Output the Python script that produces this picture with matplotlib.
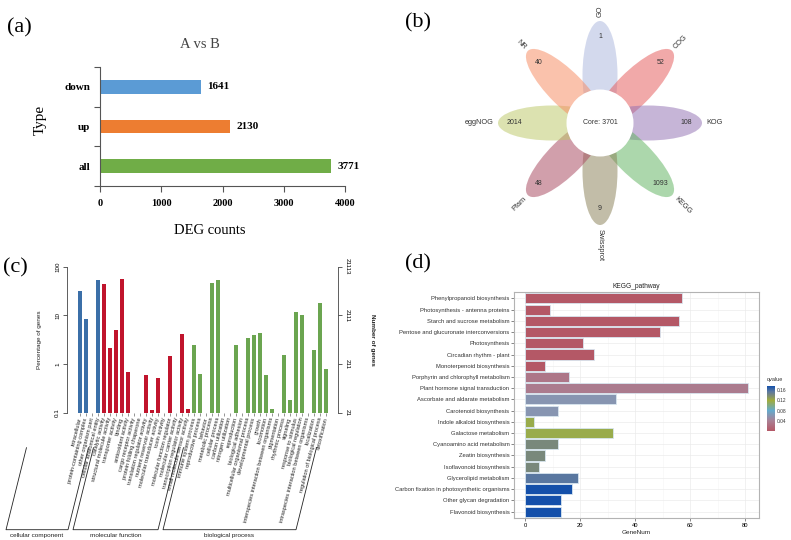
import numpy as np
import matplotlib
matplotlib.use('Agg')
import matplotlib.pyplot as plt
from matplotlib.patches import Ellipse, Circle
from matplotlib.colors import LinearSegmentedColormap, Normalize
from matplotlib.cm import ScalarMappable
from matplotlib.ticker import NullLocator
import matplotlib.transforms as mtransforms

plt.rcParams['font.family'] = ['Liberation Sans', 'DejaVu Sans']
SERIF = ['Liberation Serif', 'DejaVu Serif']

# ---------------- data ----------------
# (a)
deg_types = ['all', 'up', 'down']
deg_counts = [3771, 2130, 1641]
deg_colors = ['#70AD47', '#ED7D31', '#5B9BD5']

# (b)
flower_sets = ['GO', 'COG', 'KOG', 'KEGG', 'Swissprot', 'Pfam', 'eggNOG', 'NR']
flower_counts = [1, 52, 108, 1093, 9, 48, 2014, 40]
flower_core = 3701
flower_colors = ['#ACB7DE', '#E65A5A', '#9371B4', '#61B461',
                 '#8A8258', '#A8485F', '#BCC869', '#F78A61']

# (c)
go_terms = [
    'intracellular', 'protein-containing complex', 'other organism part',
    'cellular anatomical entity',
    'catalytic activity', 'structural molecule activity', 'transporter activity',
    'binding', 'antioxidant activity', 'cargo receptor activity',
    'protein folding chaperone', 'translation regulator activity',
    'nutrient reservoir activity', 'molecular transducer activity', 'toxin activity',
    'molecular function regulator', 'molecular carrier activity',
    'transcription regulator activity', 'small molecule sensor activity',
    'immune system process', 'reproductive process', 'behavior',
    'metabolic process', 'cellular process', 'carbon utilization',
    'nitrogen utilization', 'reproduction', 'biological adhesion',
    'multicellular organismal process', 'developmental process', 'growth',
    'locomotion', 'interspecies interaction between organisms', 'pigmentation',
    'rhythmic process', 'signaling', 'response to stimulus',
    'biological regulation', 'intraspecies interaction between organisms',
    'localization', 'regulation of biological process', 'detoxification']
go_groups = ['cellular component'] * 4 + ['molecular function'] * 15 + ['biological process'] * 23
go_percent = [31.6, 8.5, 0, 54,
              45, 2.17, 5.0, 55, 0.67, 0, 0, 0.585, 0.114, 0.52, 0, 1.46, 0, 4.13, 0.117,
              2.45, 0.62, 0, 47, 53, 0, 0, 2.45, 0, 3.5, 3.9, 4.4, 0.585, 0.117, 0,
              1.5, 0.18, 11.7, 10.0, 0, 1.97, 17.7, 0.78]
go_total = 21113
go_group_names = ['cellular component', 'molecular function', 'biological process']
go_group_colors = ['#3B6FA8', '#C0142C', '#6BA550']

# (d)
kegg_pathways = ['Phenylpropanoid biosynthesis', 'Photosynthesis - antenna proteins',
                 'Starch and sucrose metabolism', 'Pentose and glucuronate interconversions',
                 'Photosynthesis', 'Circadian rhythm - plant', 'Monoterpenoid biosynthesis',
                 'Porphyrin and chlorophyll metabolism', 'Plant hormone signal transduction',
                 'Ascorbate and aldarate metabolism', 'Carotenoid biosynthesis',
                 'Indole alkaloid biosynthesis', 'Galactose metabolism',
                 'Cyanoamino acid metabolism', 'Zeatin biosynthesis',
                 'Isoflavonoid biosynthesis', 'Glycerolipid metabolism',
                 'Carbon fixation in photosynthetic organisms', 'Other glycan degradation',
                 'Flavonoid biosynthesis']
kegg_genenum = [57, 9, 56, 49, 21, 25, 7, 16, 81, 33, 12, 3, 32, 12, 7, 5, 19, 17, 13, 13]
kegg_qvalue = [0.0, 0.0, 0.0, 0.0, 0.0, 0.0, 0.0, 0.03, 0.035, 0.06, 0.06, 0.115, 0.115,
               0.14, 0.14, 0.14, 0.155, 0.176, 0.176, 0.176]

# ---------------- figure ----------------
W, H = 791, 540
fig = plt.figure(figsize=(W / 100, H / 100), dpi=100)
fig.patch.set_facecolor('white')


def box(l, t, r, b):
    return [l / W, 1 - b / H, (r - l) / W, (b - t) / H]


# ======== (a) ========
axA = fig.add_axes(box(100, 67, 345, 186))
ya = np.arange(len(deg_types))
axA.barh(ya, deg_counts, height=0.35, color=deg_colors)
axA.set_xlim(0, 4000)
axA.set_ylim(-0.5, len(deg_types) - 0.5)
axA.set_xticks([0, 1000, 2000, 3000, 4000])
axA.set_xticklabels(['0', '1000', '2000', '3000', '4000'], fontfamily=SERIF,
                    fontweight='bold', fontsize=7.5)
axA.set_yticks(ya)
axA.set_yticklabels(deg_types, fontfamily=SERIF, fontweight='bold', fontsize=8)
axA.set_yticks(np.arange(len(deg_types) + 1) - 0.5, minor=True)
axA.tick_params(axis='y', which='major', length=0, pad=7)
axA.tick_params(axis='y', which='minor', length=4, width=0.8, color='#555555')
axA.tick_params(axis='x', length=4, width=0.8, color='#555555', pad=5)
for s in ['top', 'right']:
    axA.spines[s].set_visible(False)
for s in ['left', 'bottom']:
    axA.spines[s].set_color('#555555')
    axA.spines[s].set_linewidth(0.8)
for v, yy in zip(deg_counts, ya):
    axA.annotate(str(v), (v, yy), xytext=(4.5, 0), textcoords='offset points',
                 va='center', ha='left', fontfamily=SERIF, fontweight='bold', fontsize=8)
fig.text(200 / W, 1 - 45 / H, 'A vs B', ha='center', va='center', fontfamily=SERIF,
         fontsize=10.5, color='#444444')
fig.text(40 / W, 1 - 120 / H, 'Type', ha='center', va='center', rotation=90,
         fontfamily=SERIF, fontsize=11)
fig.text(210 / W, 1 - 230 / H, 'DEG counts', ha='center', va='center',
         fontfamily=SERIF, fontsize=10.5)
fig.text(19 / W, 1 - 28 / H, '(a)', ha='center', va='center', fontfamily=SERIF, fontsize=16)

# ======== (b) ========
axB = fig.add_axes(box(470, 0, 730, 250))
axB.set_xlim(-130, 130)
axB.set_ylim(-127, 123)
axB.axis('off')
n_sets = len(flower_sets)
for i, (name, cnt, col) in enumerate(zip(flower_sets, flower_counts, flower_colors)):
    ang = 90 - 360 / n_sets * i
    a = np.deg2rad(ang)
    axB.add_patch(Ellipse((48 * np.cos(a), 48 * np.sin(a)), width=108, height=35,
                          angle=ang, facecolor=col, alpha=0.52, edgecolor='none', zorder=1))
    axB.text(86 * np.cos(a), 86 * np.sin(a), str(cnt), ha='center', va='center',
             fontsize=5, color='#333333', zorder=4)
    angn = ((ang + 180) % 360) - 180
    if -90 <= angn <= 90:
        rot, ha = angn, 'left'
    else:
        rot, ha = angn - 180 if angn > 0 else angn + 180, 'right'
    axB.text(106 * np.cos(a), 106 * np.sin(a), name, rotation=rot, ha=ha, va='center',
             rotation_mode='anchor', fontsize=5.3, color='#333333', clip_on=False)
axB.add_patch(Circle((0, 0), 33.5, facecolor='white', edgecolor='none', zorder=3))
axB.text(0, 0, f'Core: {flower_core}', ha='center', va='center', fontsize=5,
         color='#333333', zorder=4)
fig.text(418 / W, 1 - 23 / H, '(b)', ha='center', va='center', fontfamily=SERIF, fontsize=16)

# ======== (c) ========
axC = fig.add_axes(box(67, 266.7, 338, 412.7))
xc = np.arange(len(go_terms))
pct = np.array(go_percent, dtype=float)
cols = [go_group_colors[go_group_names.index(g)] for g in go_groups]
axC.set_yscale('log')
m = pct > 0
axC.bar(xc[m], pct[m] - 0.1, bottom=0.1, width=0.82,
        color=[c for c, k in zip(cols, m) if k])
axC.set_ylim(0.1, 100)
axC.set_xlim(-2.17, 43)
axC.yaxis.set_minor_locator(NullLocator())
axC.set_yticks([0.1, 1, 10, 100])
axC.set_yticklabels(['0.1', '1', '10', '100'], rotation=90, va='center', fontsize=4.5)
axC.tick_params(axis='y', length=3, width=0.6, pad=2, color='#444444')
axC.set_xticks(xc)
axC.set_xticklabels(go_terms, rotation=76, ha='right', va='center',
                    rotation_mode='anchor', fontsize=4.1, color='#222222')
axC.tick_params(axis='x', length=2, width=0.4, pad=1.5, color='#444444')
for s in ['top', 'bottom', 'right']:
    axC.spines[s].set_visible(False)
axC.spines['left'].set_linewidth(0.6)
axC.spines['left'].set_color('#444444')

axR = axC.twinx()
axR.set_yscale('log')
axR.set_ylim(go_total * 0.1 / 100, go_total)
axR.yaxis.set_minor_locator(NullLocator())
rt = [go_total * p / 100 for p in [0.1, 1, 10, 100]]
axR.set_yticks(rt)
axR.set_yticklabels([str(int(t)) for t in rt], rotation=270, va='center', fontsize=4.5)
axR.tick_params(axis='y', length=3, width=0.6, pad=2, color='#444444')
for s in ['top', 'bottom', 'left']:
    axR.spines[s].set_visible(False)
axR.spines['right'].set_linewidth(0.6)
axR.spines['right'].set_color('#444444')

fig.text(40 / W, 1 - 340 / H, 'Percentage of genes', rotation=90, ha='center',
         va='center', fontsize=4.6, color='#222222')
fig.text(372 / W, 1 - 340 / H, 'Number of genes', rotation=270, ha='center',
         va='center', fontsize=4.6, fontweight='bold', color='#222222')

# group brackets
btrans = mtransforms.blended_transform_factory(axC.transData, axC.transAxes)
px_per_idx = 271 / (43 + 2.17)
y_bot = -117 / 146
y_top = -35 / 146
dx_top = (82 / np.tan(np.deg2rad(76))) / px_per_idx
left_pad = {'cellular component': 74, 'molecular function': 31, 'biological process': 31}
for g in go_group_names:
    idx = [i for i, gg in enumerate(go_groups) if gg == g]
    xl = idx[0] - left_pad[g] / px_per_idx
    xr = idx[-1] - 30 / px_per_idx
    axC.plot([xl + dx_top, xl, xr, xr + dx_top], [y_top, y_bot, y_bot, y_top],
             transform=btrans, color='#222222', lw=0.6, clip_on=False)
    axC.text((xl + xr) / 2, y_bot - 3 / 146, g, transform=btrans, ha='center', va='top',
             fontsize=4.6, color='#222222', clip_on=False)
fig.text(15 / W, 1 - 268 / H, '(c)', ha='center', va='center', fontfamily=SERIF, fontsize=16)

# ======== (d) ========
cmap = LinearSegmentedColormap.from_list('q', [
    (0.0, (180 / 255, 88 / 255, 102 / 255)),
    (0.227, (170 / 255, 128 / 255, 148 / 255)),
    (0.455, (100 / 255, 170 / 255, 205 / 255)),
    (0.68, (160 / 255, 172 / 255, 60 / 255)),
    (0.80, (120 / 255, 135 / 255, 125 / 255)),
    (0.88, (90 / 255, 120 / 255, 160 / 255)),
    (1.0, (20 / 255, 80 / 255, 170 / 255))])
norm = Normalize(vmin=min(kegg_qvalue), vmax=max(kegg_qvalue))

axD = fig.add_axes(box(514.3, 291.7, 759, 518.3))
nk = len(kegg_pathways)
yd = np.arange(nk)[::-1] + 1
axD.barh(yd, kegg_genenum, height=0.9, color=cmap(norm(np.array(kegg_qvalue))),
         edgecolor='#D8E6F0', linewidth=0.6, zorder=3)
axD.set_ylim(0.4, nk + 0.6)
axD.set_xlim(-4.05, 85.05)
axD.set_xticks([0, 20, 40, 60, 80])
axD.set_xticks([10, 30, 50, 70], minor=True)
axD.set_yticks(yd)
axD.set_yticklabels(kegg_pathways, fontsize=4.2, color='#333333')
axD.tick_params(axis='both', which='major', length=2, width=0.5, color='#555555',
                labelsize=4.2, pad=1.5)
axD.tick_params(axis='x', which='minor', length=0)
axD.grid(True, which='major', color='#EBEBEB', lw=0.5, zorder=0)
axD.grid(True, which='minor', axis='x', color='#F5F5F5', lw=0.4, zorder=0)
axD.set_axisbelow(True)
for s in axD.spines.values():
    s.set_color('#B3B3B3')
    s.set_linewidth(0.8)
axD.set_xlabel('GeneNum', fontsize=4.6, color='#222222', labelpad=1.5)
axD.set_title('KEGG_pathway', fontsize=4.8, color='#222222', pad=3)

cax = fig.add_axes(box(767, 386, 775, 431))
cb = fig.colorbar(ScalarMappable(norm=norm, cmap=cmap), cax=cax)
cb.set_ticks([0.04, 0.08, 0.12, 0.16])
cb.set_ticklabels(['0.04', '0.08', '0.12', '0.16'])
cb.ax.tick_params(labelsize=3.5, length=0, pad=1.5, labelcolor='#333333')
cb.outline.set_visible(False)
fig.text(767 / W, 1 - 380 / H, 'qvalue', ha='left', va='center', fontsize=4, color='#333333')
fig.text(418 / W, 1 - 264 / H, '(d)', ha='center', va='center', fontfamily=SERIF, fontsize=16)

fig.savefig('out.png', dpi=100, facecolor='white')
